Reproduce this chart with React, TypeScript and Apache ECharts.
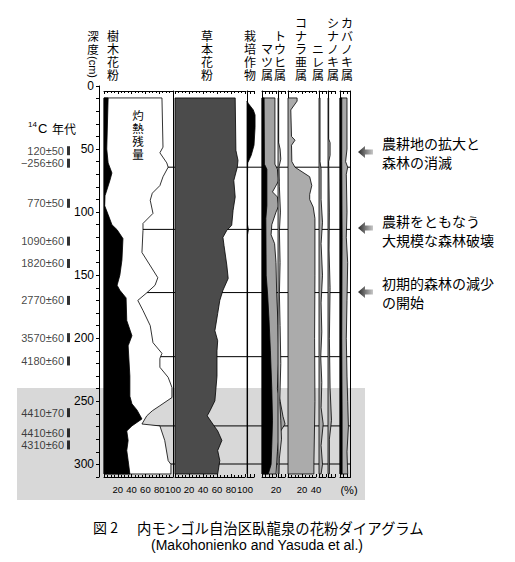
import { useEffect, useRef } from 'react';
import * as echarts from 'echarts';

// ---------------- data ----------------
const depthTickLabels = [0, 50, 100, 150, 200, 250, 300];
const percentTickLabels = [20, 40, 60, 80, 100];
const zoneBoundaries = [64.4, 113.7, 163.8, 214.6, 269.5, 299.7];
const c14Ages = ['120±50', '−256±60', '770±50', '1090±60', '1820±60', '2770±60', '3570±60', '4180±60', '4410±70', '4410±60', '4310±60'];
const c14Depths = [51.3, 61.2, 93, 123, 140.7, 170, 199.5, 218, 259, 275, 284.6];

// [depth cm, percent]
const treePollen = [[9.5, 6], [50, 4], [61, 6], [69, 11.5], [75, 8.5], [87, 1.5], [95, 1], [102, 6], [110, 11.5], [114, 19], [121, 27.5], [138, 26], [150, 23], [158, 19], [162, 23], [168, 32], [186, 33], [198, 40.5], [206, 35], [230, 37.5], [246, 37.5], [252, 40.5], [257, 48], [264, 55], [269.5, 40.5], [273.5, 33], [281, 35], [289, 33], [297, 35], [307.6, 37.5]];
const ignitionResidue = [[9.5, 84], [48.5, 85.5], [53, 81], [61, 91], [64.4, 93], [72, 85.5], [79, 81], [85, 70], [90.6, 67], [101, 71], [109, 56.5], [114.5, 56.5], [132, 55], [152, 78], [158, 74], [164, 62], [170, 49], [178, 56.5], [190, 67], [203.5, 71], [212, 84], [216, 81], [223, 81], [231, 93], [239, 98.5], [247, 98.5], [253.5, 81], [257.5, 70], [261.5, 62], [268, 55], [269.5, 81], [281, 88], [297, 93], [300, 97], [307.6, 97]];
const herbPollen = [[9.5, 86], [51, 87], [59, 90], [64.4, 89], [75, 84], [88, 86], [98.6, 83], [110.5, 81], [114.5, 74], [120, 68.5], [126.4, 70], [142, 74], [152.6, 76], [162, 68.5], [170, 64], [180.4, 61], [194, 57], [202, 61], [210, 60], [230, 60], [249.6, 57], [257.5, 50], [261.5, 46], [268, 54], [273.5, 61], [281, 67], [289, 61], [297, 64], [307.6, 61]];
const cultivated = [[12, 0], [14, 2], [19, 9], [23, 11.5], [33, 11.5], [47, 10], [55, 6], [61, 1], [70, 0.8], [110, 0.8], [114, 2], [118, 0.8], [307.6, 0.8]];
const pinusLight = [[9.5, 18.5], [62, 18.5], [66, 22], [75, 24], [80, 19], [84, 15], [88, 22], [95, 24], [100, 20], [110, 14], [118, 13], [125, 18], [140, 20], [165, 21], [190, 23], [215, 24], [240, 22], [250, 26], [262, 30], [268, 33], [275, 25], [290, 22], [307.6, 20]];
const pinusDark = [[9.5, 3], [62, 3.5], [66, 7], [95, 7], [105, 5.5], [150, 6], [165, 8], [185, 10], [210, 12], [240, 14], [265, 15], [285, 14], [300, 13], [307.6, 9]];
const picea = [[9.5, 1], [45, 1], [50, 3], [58, 4], [64, 1.5], [80, 2], [100, 3.5], [115, 2], [140, 3], [165, 2], [190, 3], [220, 4], [250, 2.5], [265, 4], [280, 5], [295, 2], [307.6, 1.5]];
const quercus = [[9.5, 13], [12, 13], [19, 4], [40, 5], [43, 10], [47, 5], [60, 5.5], [64.4, 10], [72, 31], [79, 34], [86, 31], [90, 31], [96, 36], [105, 38.5], [150, 38.5], [200, 38], [250, 38.5], [300, 37], [307.6, 37]];
const ulmus = [[9.5, 1.5], [60, 1.5], [66, 3], [90, 3], [108, 5], [125, 3], [150, 5], [172, 3], [195, 4], [215, 2.5], [235, 4], [255, 3], [268, 6], [285, 3], [300, 5], [307.6, 3]];
const tilia = [[9.5, 1], [42, 1], [45, 3], [55, 3], [60, 1], [100, 2], [130, 1.5], [160, 3], [200, 2], [240, 3], [265, 5], [280, 2], [307.6, 2]];
const betulaLight = [[9.5, 10], [50, 10], [60, 8], [64.4, 11], [70, 9], [100, 10], [120, 9], [140, 11], [170, 10], [200, 9], [230, 10], [250, 11], [270, 12], [290, 10], [307.6, 11]];
const betulaDark = [[9.5, 2.5], [60, 2.5], [120, 3], [200, 2.5], [260, 3], [307.6, 3]];

// ---------------- layout ----------------
const JP = '"Noto Sans CJK JP", "Noto Sans", sans-serif';
const JPV = '"Liberation Sans", "Noto Sans CJK JP", sans-serif';
const LAT = '"Liberation Sans", Arial, sans-serif';
const TOP = 91;
const BOTTOM = 85;

type Layer = { data: number[][]; fill: string };
type Panel = { left: number; width: number; max: number; interval: number; minor: number; labels: number[]; lineLeft: boolean; lineRight: boolean; layers: Layer[] };

const panels: Panel[] = [
  { left: 104, width: 69, max: 100, interval: 20, minor: 4, labels: percentTickLabels, lineLeft: false, lineRight: true, layers: [{ data: ignitionResidue, fill: '#ffffff' }, { data: treePollen, fill: '#000000' }] },
  { left: 175, width: 70, max: 100, interval: 20, minor: 4, labels: percentTickLabels, lineLeft: false, lineRight: false, layers: [{ data: herbPollen, fill: '#4b4b4b' }] },
  { left: 247, width: 7, max: 10, interval: 5, minor: 0, labels: [], lineLeft: true, lineRight: false, layers: [{ data: cultivated, fill: '#000000' }] },
  { left: 262, width: 14, max: 20, interval: 5, minor: 0, labels: [20], lineLeft: true, lineRight: false, layers: [{ data: pinusLight, fill: '#a2a2a2' }, { data: pinusDark, fill: '#000000' }] },
  { left: 278, width: 7, max: 10, interval: 5, minor: 0, labels: [], lineLeft: true, lineRight: false, layers: [{ data: picea, fill: '#b8b8b8' }] },
  { left: 288, width: 28, max: 40, interval: 20, minor: 4, labels: [20, 40], lineLeft: true, lineRight: false, layers: [{ data: quercus, fill: '#ababab' }] },
  { left: 319, width: 7, max: 10, interval: 5, minor: 0, labels: [], lineLeft: true, lineRight: false, layers: [{ data: ulmus, fill: '#a8a8a8' }] },
  { left: 328, width: 7, max: 10, interval: 5, minor: 0, labels: [], lineLeft: true, lineRight: false, layers: [{ data: tilia, fill: '#a8a8a8' }] },
  { left: 340, width: 10.5, max: 15, interval: 5, minor: 0, labels: [], lineLeft: true, lineRight: true, layers: [{ data: betulaLight, fill: '#a8a8a8' }, { data: betulaDark, fill: '#000000' }] },
];

const headers: { text: string; x: number }[] = [
  { text: '樹木花粉', x: 113 },
  { text: '草本花粉', x: 207 },
  { text: '栽培作物', x: 250 },
  { text: 'マツ属', x: 267 },
  { text: 'トウヒ属', x: 280 },
  { text: 'コナラ亜属', x: 301 },
  { text: 'ニレ属', x: 318 },
  { text: 'シナノキ属', x: 333 },
  { text: 'カバノキ属', x: 347 },
];

const notes: { lines: string[]; y: number; arrowY: number }[] = [
  { lines: ['農耕地の拡大と', '森林の消滅'], y: 143, arrowY: 152 },
  { lines: ['農耕をともなう', '大規模な森林破壊'], y: 221, arrowY: 228 },
  { lines: ['初期的森林の減少', 'の開始'], y: 283, arrowY: 292 },
];

function areaSeries(points: number[][], xIdx: number, yIdx: number, fill: string, z: number) {
  return {
    type: 'custom',
    coordinateSystem: 'cartesian2d',
    xAxisIndex: xIdx,
    yAxisIndex: yIdx,
    data: points.map(([d, v]) => [v, d]),
    z,
    silent: true,
    renderItem: (params: any, api: any) => {
      if (params.dataIndex !== 0) return null;
      const pts = points.map(([d, v]) => api.coord([v, d]));
      const first = api.coord([0, points[0][0]]);
      const last = api.coord([0, points[points.length - 1][0]]);
      return {
        type: 'polygon',
        shape: { points: [first, ...pts, last] },
        style: { fill, stroke: '#000', lineWidth: 0.8 },
      };
    },
  };
}

function vtext(s: string, x: number, yBottom: number, size: number, lh: number) {
  return {
    type: 'text',
    x,
    y: yBottom,
    z: 50,
    style: { text: s.split('').join('\n'), fontSize: size, lineHeight: lh, fontFamily: JPV, fill: '#000', align: 'center', verticalAlign: 'bottom' },
  };
}

function buildOption() {
  const grids: any[] = [];
  const xAxes: any[] = [];
  const yAxes: any[] = [];
  const series: any[] = [];
  const extraY: any[] = [];

  panels.forEach((p, i) => {
    grids.push({ left: p.left, width: p.width, top: TOP, bottom: BOTTOM });
    const base = {
      type: 'value', gridIndex: i, min: 0, max: p.max, interval: p.interval,
      splitLine: { show: false },
      axisLine: { show: true, onZero: false, lineStyle: { color: '#000', width: 1 } },
      axisTick: { show: true, inside: true, length: 3, lineStyle: { color: '#000' } },
      minorTick: { show: p.minor > 0, splitNumber: p.minor || 5, length: 2, lineStyle: { color: '#000' } },
      minorSplitLine: { show: false },
    };
    xAxes.push({
      ...base, position: 'bottom',
      axisLabel: {
        show: p.labels.length > 0, showMaxLabel: true, showMinLabel: false, hideOverlap: false,
        formatter: (v: number) => (p.labels.includes(v) ? String(v) : ''),
        fontSize: 9.5, color: '#000', margin: 7, fontFamily: LAT,
      },
    });
    xAxes.push({ ...base, position: 'top', axisLabel: { show: false } });
    yAxes.push({
      type: 'value', gridIndex: i, min: 4, max: 310, inverse: true, position: 'left',
      axisLine: { show: p.lineLeft, onZero: false, lineStyle: { color: '#000', width: 1 } },
      axisTick: { show: false }, axisLabel: { show: false }, splitLine: { show: false },
    });
    if (p.lineRight) {
      extraY.push({
        type: 'value', gridIndex: i, min: 4, max: 310, inverse: true, position: 'right',
        axisLine: { show: true, onZero: false, lineStyle: { color: '#000', width: 1 } },
        axisTick: { show: false }, axisLabel: { show: false }, splitLine: { show: false },
      });
    }
    p.layers.forEach((layer, k) => series.push(areaSeries(layer.data, 2 * i, i, layer.fill, 3 + k)));
  });

  const n = panels.length;
  // zone-line grid
  grids.push({ left: 104, width: 247, top: TOP, bottom: BOTTOM });
  xAxes.push({ type: 'value', gridIndex: n, min: 0, max: 1, show: false });
  yAxes.push({ type: 'value', gridIndex: n, min: 4, max: 310, inverse: true, show: false });
  zoneBoundaries.forEach((d) =>
    series.push({ type: 'line', xAxisIndex: 2 * n, yAxisIndex: n, data: [[0, d], [1, d]], symbol: 'none', lineStyle: { color: '#000', width: 1 }, z: 1, silent: true })
  );

  // depth axis grid
  grids.push({ left: 99, width: 1, top: 86, bottom: BOTTOM });
  xAxes.push({ type: 'value', gridIndex: n + 1, min: 0, max: 1, show: false });
  yAxes.push({
    type: 'value', gridIndex: n + 1, min: 0, max: 310, interval: 10, inverse: true, position: 'left',
    axisLine: { show: true, onZero: false, lineStyle: { color: '#000', width: 1 } },
    axisTick: { show: true, inside: false, length: 3, lineStyle: { color: '#000' } },
    axisLabel: { formatter: (v: number) => (depthTickLabels.includes(v) ? String(v) : ''), fontSize: 12, color: '#000', margin: 5, fontFamily: LAT },
    splitLine: { show: false },
  });

  // 14C dates grid
  grids.push({ left: 60, width: 10, top: 86, bottom: BOTTOM });
  xAxes.push({ type: 'value', gridIndex: n + 2, min: 0, max: 1, show: false });
  yAxes.push({ type: 'value', gridIndex: n + 2, min: 0, max: 310, inverse: true, show: false });
  series.push({
    type: 'scatter', xAxisIndex: 2 * n + 2, yAxisIndex: n + 2,
    data: c14Depths.map((d) => [0.85, d]),
    symbol: 'rect', symbolSize: [3, 9], itemStyle: { color: '#000' }, z: 5, silent: true,
    label: { show: true, position: 'left', distance: 3, formatter: (p: any) => c14Ages[p.dataIndex], fontSize: 11, color: '#111', fontFamily: LAT },
  });

  extraY.forEach((a) => yAxes.push(a));

  const graphic: any[] = [
    { type: 'rect', z: -10, shape: { x: 17, y: 388, width: 348, height: 112 }, style: { fill: '#d8d8d8' } },
    { type: 'text', x: 93, y: 57, z: 50, style: { text: '深\n度', fontSize: 11.5, lineHeight: 13.5, fontFamily: JPV, fill: '#000', align: 'center', verticalAlign: 'bottom' } },
    { type: 'text', x: 93, y: 67, z: 50, rotation: -Math.PI / 2, style: { text: '(cm)', fontSize: 11, fontFamily: LAT, fill: '#000', align: 'center', verticalAlign: 'middle' } },
    { type: 'text', x: 37, y: 124, z: 50, style: { text: '14', fontSize: 8, fontFamily: LAT, fill: '#000', align: 'right', verticalAlign: 'middle' } },
    { type: 'text', x: 38, y: 128, z: 50, style: { text: 'C', fontSize: 13, fontFamily: LAT, fill: '#000', align: 'left', verticalAlign: 'middle' } },
    { type: 'text', x: 52, y: 128, z: 50, style: { text: '年代', fontSize: 12, fontFamily: JP, fill: '#000', align: 'left', verticalAlign: 'middle' } },
    { type: 'text', x: 138, y: 109, z: 50, style: { text: '灼\n熱\n残\n量', fontSize: 11.5, lineHeight: 13, fontFamily: JPV, fill: '#000', align: 'center', verticalAlign: 'top' } },
    { type: 'text', x: 349, y: 490, z: 50, style: { text: '(%)', fontSize: 11, fontFamily: LAT, fill: '#000', align: 'center', verticalAlign: 'middle' } },
    { type: 'text', x: 93, y: 527, z: 50, style: { text: '図 2', fontSize: 14, fontFamily: JP, fill: '#000', align: 'left', verticalAlign: 'middle' } },
    { type: 'text', x: 137, y: 527, z: 50, style: { text: '内モンゴル自治区臥龍泉の花粉ダイアグラム', fontSize: 14.4, fontFamily: JP, fill: '#000', align: 'left', verticalAlign: 'middle' } },
    { type: 'text', x: 257, y: 545, z: 50, style: { text: '(Makohonienko and Yasuda et al.)', fontSize: 14, fontFamily: LAT, fill: '#000', align: 'center', verticalAlign: 'middle' } },
  ];
  headers.forEach((h) => graphic.push(vtext(h.text, h.x, 83, 12, 13.2)));
  notes.forEach((nt) => {
    const a = nt.arrowY;
    graphic.push({
      type: 'polygon', z: 20,
      shape: { points: [[358, a], [365, a - 6], [365, a - 2.5], [373, a - 2.5], [373, a + 2.5], [365, a + 2.5], [365, a + 6]] },
      style: { fill: new echarts.graphic.LinearGradient(0, 0, 1, 0, [{ offset: 0, color: '#2a2a2a' }, { offset: 1, color: '#c8c8c8' }]) },
    });
    nt.lines.forEach((line, k) =>
      graphic.push({ type: 'text', x: 382, y: nt.y + k * 19, z: 50, style: { text: line, fontSize: 14, fontFamily: JP, fill: '#000', align: 'left', verticalAlign: 'middle' } })
    );
  });

  return {
    animation: false,
    backgroundColor: '#ffffff',
    grid: grids,
    xAxis: xAxes,
    yAxis: yAxes,
    series,
    graphic,
  };
}

export default function App() {
  const ref = useRef<HTMLDivElement>(null);
  useEffect(() => {
    if (!ref.current) return;
    const chart = echarts.init(ref.current, undefined, { renderer: 'svg' });
    chart.setOption(buildOption() as any);
    return () => chart.dispose();
  }, []);
  return <div ref={ref} style={{ position: 'fixed', left: 0, top: 0, width: 515, height: 562 }} />;
}
